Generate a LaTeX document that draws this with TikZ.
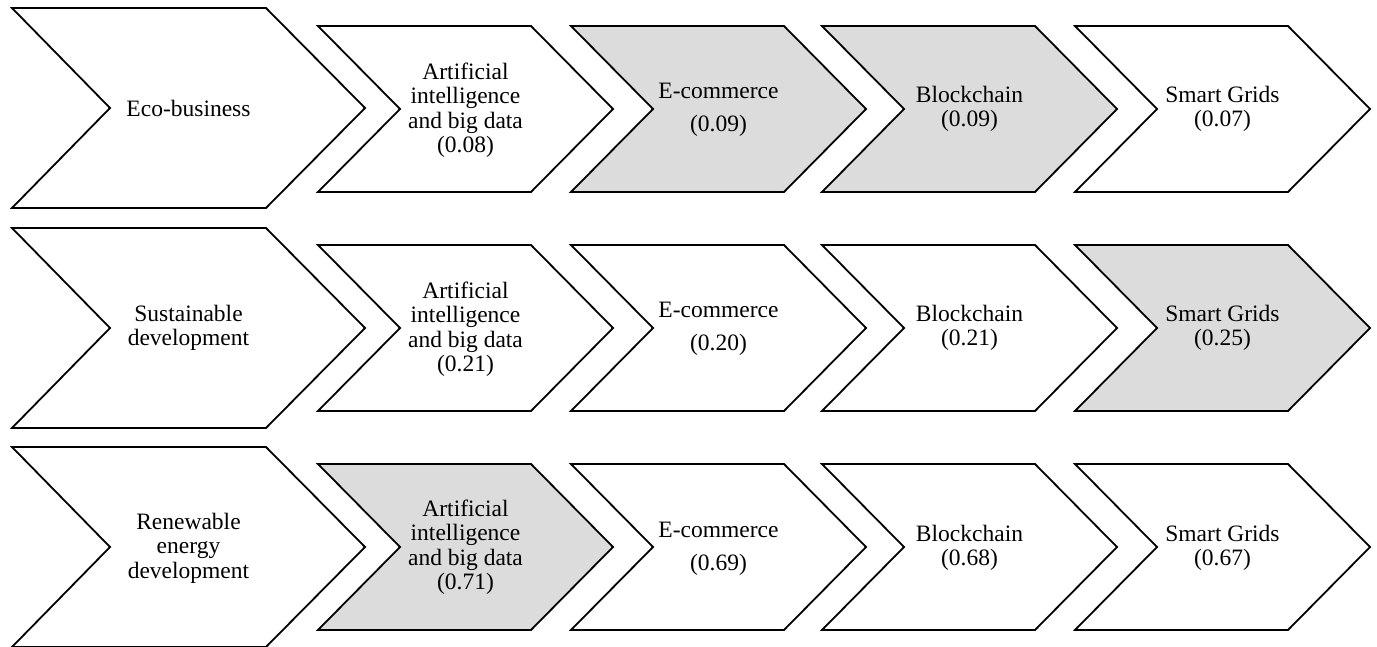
\documentclass[tikz,border=0pt]{standalone}
\usepackage{fontspec}
\setmainfont{Liberation Serif}
\definecolor{chevgray}{RGB}{220,220,220}
\tikzset{
  chevline/.style={draw=black, line width=1.8pt, line join=miter},
  lbl/.style={align=center, inner sep=0pt, font=\fontsize{23.5}{24.5}\selectfont},
}
\newcommand\chevbig[2]{%
  \draw[chevline,fill=#2] (12,#1-100) -- (266,#1-100) -- (365,#1) -- (266,#1+100) -- (12,#1+100) -- (110,#1) -- cycle;}
\newcommand\chevsmall[3]{%
  \draw[chevline,fill=#3] (#1,#2-83) -- (#1+213,#2-83) -- (#1+295,#2) -- (#1+213,#2+83) -- (#1,#2+83) -- (#1+82,#2) -- cycle;}
\begin{document}
\begin{tikzpicture}[x=1pt,y=-1pt]
\useasboundingbox (0,0) rectangle (1377,647);
% Row 1
\chevbig{108}{white}
\chevsmall{318}{109}{white}
\chevsmall{571}{109}{chevgray}
\chevsmall{822}{109}{chevgray}
\chevsmall{1075}{109}{white}
\node[lbl] (r1a) at (188.5,108) {Eco-business};
\node[lbl] (r1b) at (465.5,110) {Artificial\\intelligence\\and big data\\(0.08)};
\node[lbl] (r1c) at (718.5,110) {E-commerce\\[8pt](0.09)};
\node[lbl] (r1d) at (969.5,109) {Blockchain\\(0.09)};
\node[lbl] (r1e) at (1222.5,109) {Smart Grids\\(0.07)};
% Row 2
\chevbig{328}{white}
\chevsmall{318}{328}{white}
\chevsmall{571}{328}{white}
\chevsmall{822}{328}{white}
\chevsmall{1075}{328}{chevgray}
\node[lbl] (r2a) at (188.5,328) {Sustainable\\development};
\node[lbl] (r2b) at (465.5,329) {Artificial\\intelligence\\and big data\\(0.21)};
\node[lbl] (r2c) at (718.5,329) {E-commerce\\[8pt](0.20)};
\node[lbl] (r2d) at (969.5,328) {Blockchain\\(0.21)};
\node[lbl] (r2e) at (1222.5,328) {Smart Grids\\(0.25)};
% Row 3
\chevbig{547}{white}
\chevsmall{318}{547}{chevgray}
\chevsmall{571}{547}{white}
\chevsmall{822}{547}{white}
\chevsmall{1075}{547}{white}
\node[lbl] (r3a) at (188.5,548) {Renewable\\energy\\development};
\node[lbl] (r3b) at (465.5,547) {Artificial\\intelligence\\and big data\\(0.71)};
\node[lbl] (r3c) at (718.5,549) {E-commerce\\[8pt](0.69)};
\node[lbl] (r3d) at (969.5,548) {Blockchain\\(0.68)};
\node[lbl] (r3e) at (1222.5,548) {Smart Grids\\(0.67)};
\end{tikzpicture}
\end{document}
